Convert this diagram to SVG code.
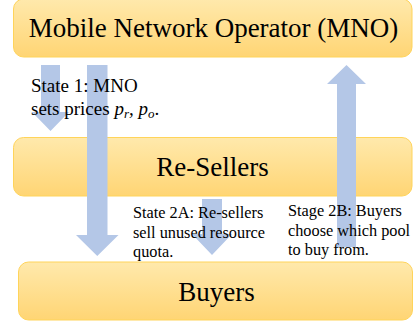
<svg xmlns="http://www.w3.org/2000/svg" width="415" height="327" viewBox="0 0 415 327">
<defs>
<linearGradient id="gold" x1="0" y1="0" x2="0" y2="1">
<stop offset="0" stop-color="#FFE9AC"/>
<stop offset="1" stop-color="#FFD574"/>
</linearGradient>
<style>
.box{fill:url(#gold);stroke:#FFD45A;stroke-width:1}
text{font-family:'Liberation Serif','DejaVu Serif',serif;fill:#000}
.title{font-size:27px;text-anchor:middle}
.arrow{fill:#B4C7E7;stroke:none}
.note{font-size:16.3px}
.note1{font-size:19px}
.it{font-style:italic}
</style>
</defs>
<rect width="415" height="327" fill="#fff"/>
<g id="mno">
<rect class="box" x="13.5" y="-1" width="398.5" height="58" rx="10"/>
<text class="title" x="213.5" y="37">Mobile Network Operator (MNO)</text>
</g>
<g id="resellers">
<rect class="box" x="13.5" y="137.5" width="398.5" height="58.5" rx="10"/>
<text class="title" x="212.5" y="176">Re-Sellers</text>
</g>
<g id="buyers">
<rect class="box" x="18.5" y="262" width="394" height="58" rx="10"/>
<text class="title" x="216.5" y="301">Buyers</text>
</g>
<g id="connectors">
<path class="arrow" d="M41,65 H60 V112 H69 L50.5,131 L32,112 H41 Z"/>
<path class="arrow" d="M87,65 H107.5 V235 H118.5 L97.25,256 L76,235 H87 Z"/>
<path class="arrow" d="M202,199 H222 V234 H232 L212,255 L192,234 H202 Z"/>
<path class="arrow" d="M337,247 V84 H327 L346.5,65 L366,84 H356 V247 Z"/>
</g>
<g id="labels">
<text class="note1" x="31" y="92">State 1: MNO</text>
<text class="note1" x="31" y="115">sets prices <tspan class="it">p</tspan><tspan class="it" font-size="13" dy="3">r</tspan><tspan class="it" dy="-3">, p</tspan><tspan class="it" font-size="13" dy="3">o</tspan><tspan dy="-3">.</tspan></text>
<text class="note" x="133" y="218">State 2A: Re-sellers</text>
<text class="note" x="133" y="237.5">sell unused resource</text>
<text class="note" x="133" y="257">quota.</text>
<text class="note" x="288" y="216">Stage 2B: Buyers</text>
<text class="note" x="288" y="235.5">choose which pool</text>
<text class="note" x="288" y="255">to buy from.</text>
</g>
</svg>
